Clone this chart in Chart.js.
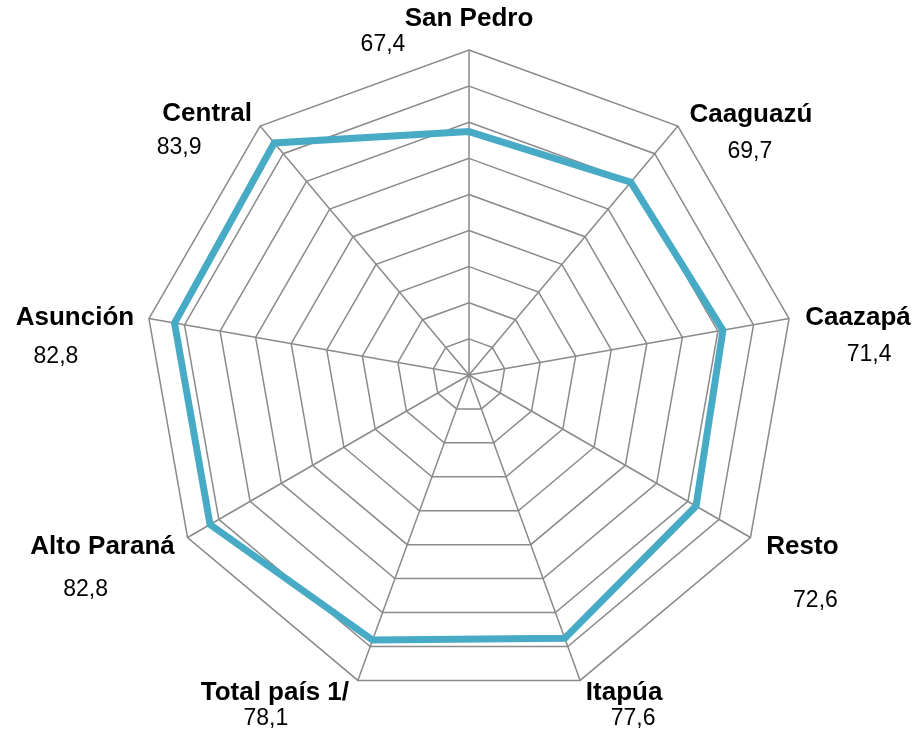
<!DOCTYPE html>
<html>
<head>
<meta charset="utf-8">
<title>Radar</title>
<script src="https://cdn.jsdelivr.net/npm/chart.js@4/dist/chart.umd.min.js"></script>
<style>
  body { margin: 0; background: #fff; }
  canvas { display: block; }
</style>
</head>
<body>
<canvas id="radarChart" width="914" height="733"></canvas>
<script>
const categories = ['San Pedro', 'Caaguazú', 'Caazapá', 'Resto', 'Itapúa', 'Total país 1/', 'Alto Paraná', 'Asunción', 'Central'];
const values = [67.4, 69.7, 71.4, 72.6, 77.6, 78.1, 82.8, 82.8, 83.9];
const valueLabels = ['67,4', '69,7', '71,4', '72,6', '77,6', '78,1', '82,8', '82,8', '83,9'];

// label placement, offsets from the outer vertex of each axis
const nameOffsets = [[0, -31], [73, -11], [69, -1], [52, 9], [44, 12], [-83, 12], [-85, 9], [-74, -1], [-53, -12]];
const valueOffsets = [[-86, -5], [72, 26], [80, 36], [65, 63], [53, 38], [-92, 38], [-102, 52], [-93, 38], [-81, 22]];

const labelPlugin = {
    id: 'radarLabels',
    afterDraw(chart) {
        const scale = chart.scales.r;
        const ctx = chart.ctx;
        ctx.save();
        ctx.fillStyle = '#000';
        ctx.textAlign = 'center';
        ctx.textBaseline = 'middle';
        categories.forEach((name, i) => {
            const p = scale.getPointPosition(i, scale.drawingArea);
            ctx.font = 'bold 26px "Liberation Sans", Arial, sans-serif';
            ctx.fillText(name, p.x + nameOffsets[i][0], p.y + nameOffsets[i][1]);
            ctx.font = '23px "Liberation Sans", Arial, sans-serif';
            ctx.fillText(valueLabels[i], p.x + valueOffsets[i][0], p.y + valueOffsets[i][1]);
        });
        ctx.restore();
    }
};

const ctx = document.getElementById('radarChart').getContext('2d');
new Chart(ctx, {
    type: 'radar',
    data: {
        labels: categories,
        datasets: [{
            data: values,
            borderColor: '#48abc6',
            borderWidth: 7,
            fill: false,
            pointRadius: 0,
            pointHoverRadius: 0,
            tension: 0
        }]
    },
    options: {
        responsive: false,
        animation: false,
        layout: { padding: { top: 50, bottom: 33, left: 140, right: 116 } },
        plugins: { legend: { display: false }, tooltip: { enabled: false } },
        scales: {
            r: {
                min: 0,
                max: 90,
                ticks: { stepSize: 10, display: false },
                grid: { color: '#8a8a8a', lineWidth: 1.5 },
                angleLines: { color: '#8a8a8a', lineWidth: 1.5 },
                pointLabels: { display: false }
            }
        }
    },
    plugins: [labelPlugin]
});
</script>
</body>
</html>
